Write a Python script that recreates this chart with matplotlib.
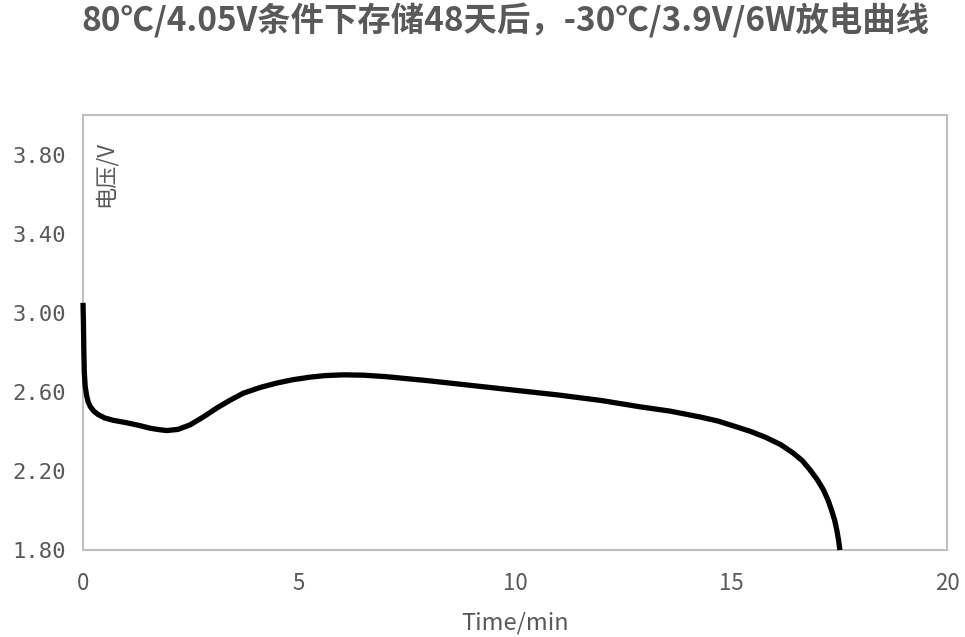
import matplotlib
matplotlib.use("Agg")
import matplotlib.pyplot as plt
from matplotlib.ticker import FixedLocator

# ---- data ----
time_min = [0, 0.01, 0.02, 0.03, 0.05, 0.08, 0.12, 0.17, 0.25, 0.35, 0.5, 0.7,
            1.0, 1.3, 1.55, 1.75, 1.94, 2.2, 2.48, 2.8, 3.09, 3.4, 3.71, 4.1,
            4.48, 4.85, 5.25, 5.6, 6.03, 6.5, 7.0, 8.0, 9.0, 10.0, 11.0, 12.0,
            12.9, 13.6, 14.3, 14.7, 15.05, 15.45, 15.8, 16.15, 16.44, 16.65,
            16.83, 17.0, 17.14, 17.25, 17.33, 17.4, 17.45, 17.49, 17.52]
voltage = [3.05, 2.95, 2.80, 2.70, 2.63, 2.585, 2.548, 2.525, 2.502, 2.485, 2.468,
           2.456, 2.444, 2.430, 2.416, 2.409, 2.404, 2.410, 2.433, 2.475, 2.517,
           2.557, 2.593, 2.622, 2.644, 2.661, 2.674, 2.682, 2.686, 2.684, 2.677,
           2.656, 2.632, 2.608, 2.584, 2.556, 2.524, 2.502, 2.472, 2.452, 2.428,
           2.400, 2.370, 2.333, 2.290, 2.252, 2.205, 2.155, 2.104, 2.050, 2.000,
           1.950, 1.900, 1.850, 1.800]
x_ticks = [0, 5, 10, 15, 20]
y_ticks = [1.8, 2.2, 2.6, 3.0, 3.4, 3.8]
y_tick_labels = ["1.80", "2.20", "2.60", "3.00", "3.40", "3.80"]
title = "80℃/4.05V条件下存储48天后，-30℃/3.9V/6W放电曲线"
x_label = "Time/min"
y_label = "电压/V"

grey = "#595959"
W, H = 965, 637
fig = plt.figure(figsize=(W / 100, H / 100), dpi=100)
ax = fig.add_axes([83 / W, 1 - 550 / H, (947 - 83) / W, (550 - 115) / H])

ax.plot(time_min, voltage, color="black", lw=3.8, solid_capstyle="butt",
        solid_joinstyle="round", clip_on=False, zorder=3)
ax.set_xlim(0, 20)
ax.set_ylim(1.8, 4.0)
ax.xaxis.set_major_locator(FixedLocator(x_ticks))
ax.set_xticklabels([str(t) for t in x_ticks])
ax.yaxis.set_major_locator(FixedLocator(y_ticks))
ax.set_yticklabels(y_tick_labels)

for s in ax.spines.values():
    s.set_color("#bfbfbf")
    s.set_linewidth(1.5)

ax.tick_params(axis="both", length=0)
ax.tick_params(axis="y", pad=12, labelsize=16, labelcolor=grey)
ax.tick_params(axis="x", pad=16, labelsize=16, labelcolor=grey)
for lab in ax.get_yticklabels():
    lab.set_family("DejaVu Sans Mono")
for lab in ax.get_xticklabels():
    lab.set_family(["Noto Sans CJK SC", "DejaVu Sans"])

ax.set_xlabel(x_label, fontsize=17, color=grey,
              family=["Noto Sans CJK SC", "DejaVu Sans"], labelpad=12)

ax.text(0.012, 0.94, y_label, transform=ax.transAxes, rotation=90,
        ha="left", va="top", fontsize=16, color=grey,
        family=["Noto Sans CJK SC", "DejaVu Sans"], fontweight="light")

fig.text(505 / W, 1 - 21 / H, title, ha="center", va="center", fontsize=24,
         fontweight="bold", color=grey,
         family=["Noto Sans CJK SC", "DejaVu Sans"])

fig.savefig("out.png", dpi=100)
